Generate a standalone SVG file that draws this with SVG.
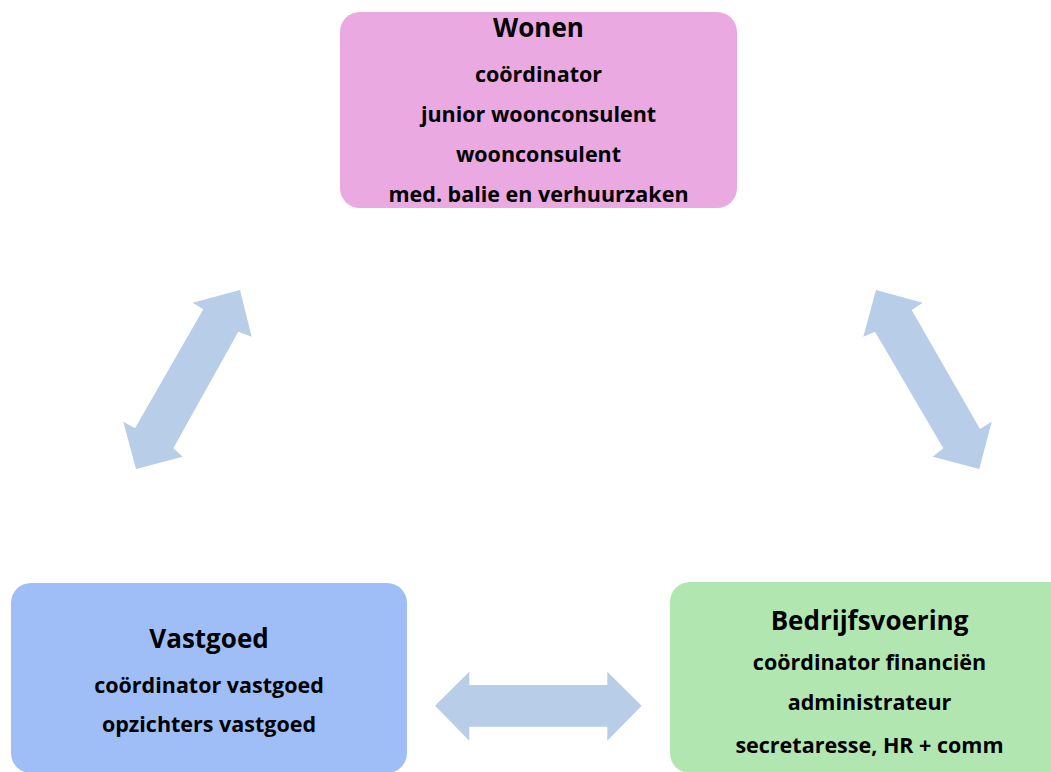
<svg xmlns="http://www.w3.org/2000/svg" width="1051" height="772" viewBox="0 0 1051 772">
<style>
.t{font-family:"Open Sans","Liberation Sans",sans-serif;font-weight:bold;fill:#000;text-anchor:middle}
.h{font-size:26px}
.s{font-size:21.5px}
.arr{fill:#B7CDE8;stroke:none}
</style>
<rect width="1051" height="772" fill="#fff"/>
<g id="connectors">
<polygon class="arr" points="240,290 251.7,336.7 238.3,331.7 173.3,448.3 182.7,456.7 136,469 123.3,421.7 135,428.3 203.3,309.3 192.7,302.7"/>
<polygon class="arr" points="876,290 922.7,302.7 911.7,310 980,429 991.7,421.7 979.3,469 932.7,456.7 943.3,448.3 875,331.7 863.3,336.7"/>
<polygon class="arr" points="435,705.7 469.3,671.7 469.3,685 607.3,685 607.3,671.7 641.7,705.7 607.3,740.7 607.3,726.7 469.3,726.7 469.3,740.7"/>
</g>
<g id="wonen">
<rect x="340" y="12" width="397" height="196" rx="20" fill="#EBA9E2"/>
<text class="t h" x="538.5" y="37">Wonen</text>
<text class="t s" x="538.5" y="82">coördinator</text>
<text class="t s" x="538.5" y="122">junior woonconsulent</text>
<text class="t s" x="538.5" y="162">woonconsulent</text>
<text class="t s" x="538.5" y="202">med. balie en verhuurzaken</text>
</g>
<g id="vastgoed">
<rect x="11" y="583" width="396" height="190" rx="20" fill="#9FBEF7"/>
<text class="t h" x="209" y="648">Vastgoed</text>
<text class="t s" x="209" y="693">coördinator vastgoed</text>
<text class="t s" x="209" y="732">opzichters vastgoed</text>
</g>
<g id="bedrijfsvoering">
<rect x="670" y="582" width="400" height="191" rx="20" fill="#B1E6B1"/>
<text class="t h" x="869.5" y="630">Bedrijfsvoering</text>
<text class="t s" x="869.5" y="670">coördinator financiën</text>
<text class="t s" x="869.5" y="710">administrateur</text>
<text class="t s" x="869.5" y="753">secretaresse, HR + comm</text>
</g>
</svg>
